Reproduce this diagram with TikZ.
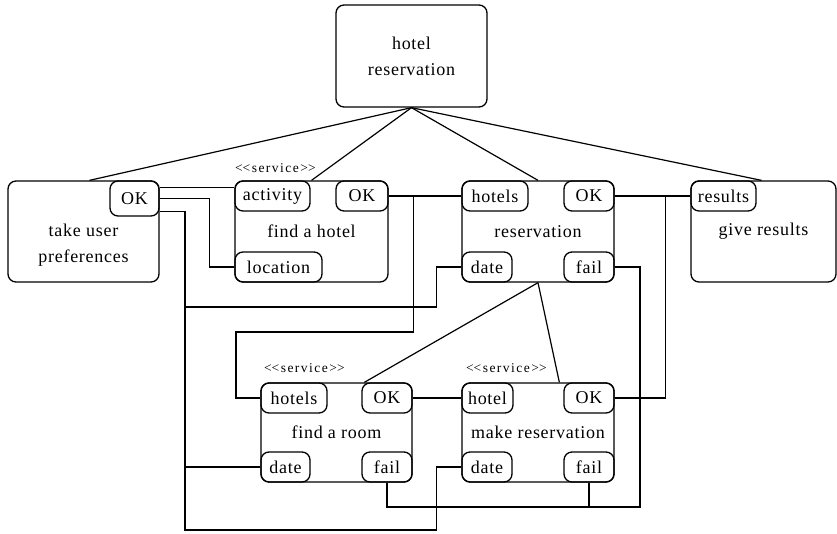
\documentclass[tikz,border=0pt]{standalone}
\usepackage{fontspec}
\setmainfont{Liberation Serif}[LetterSpace=4]
\usetikzlibrary{calc}

\tikzset{
  box/.style={draw, line width=1.3pt, rounded corners=8pt, minimum width=151pt,
    minimum height=101pt, inner sep=0pt, align=center},
  port/.style={draw, line width=1.3pt, rounded corners=8pt, minimum height=30pt,
    inner sep=0pt},
  wire/.style={line width=1.2pt},
  stereo/.style={font=\fontsize{13.5}{15}\selectfont\addfontfeature{LetterSpace=11}},
}
\newcommand{\stereotype}[1]{<\kern0pt<#1>\kern0pt>}

\begin{document}
\begin{tikzpicture}[x=1pt, y=-1pt, font=\fontsize{18}{26}\selectfont]
  \useasboundingbox (0,0) rectangle (837,533);

  % upper row
  \node[box, minimum height=102pt] (top) at (411.5,56) {hotel\\reservation};
  \node[box] (tup) at (83.5,231.5) {};
  \node[align=center, inner sep=0pt] (tupText) at ($(tup.center)+(0,14)$) {take user\\preferences};
  \node[port, minimum width=49pt, minimum height=35pt, anchor=north east] (tupOK) at (tup.north east) {OK};

  \node[box, minimum width=153pt] (fh) at (311.5,231.5) {find a hotel};
  \node[stereo] (fhStereo) at ($(fh.north west)+(41,-12)$) {\stereotype{service}};
  \node[port, minimum width=75pt, anchor=north west] (fhAct) at (fh.north west) {activity};
  \node[port, minimum width=52pt, anchor=north east] (fhOK) at (fh.north east) {OK};
  \node[port, minimum width=87pt, anchor=south west] (fhLoc) at (fh.south west) {location};

  \node[box, minimum width=152pt] (res) at (538,231.5) {reservation};
  \node[port, minimum width=66pt, anchor=north west] (resHotels) at (res.north west) {hotels};
  \node[port, minimum width=50pt, anchor=north east] (resOK) at (res.north east) {OK};
  \node[port, minimum width=50pt, anchor=south west] (resDate) at (res.south west) {date};
  \node[port, minimum width=50pt, anchor=south east] (resFail) at (res.south east) {fail};

  \node[box, minimum width=145pt] (gr) at (763.5,231.5) {give results};
  \node[port, minimum width=65pt, anchor=north west] (grResults) at (gr.north west) {results};

  % lower row
  \node[box, minimum height=99pt] (fr) at (336.5,432.5) {find a room};
  \node[stereo] (frStereo) at ($(fr.north west)+(44,-14)$) {\stereotype{service}};
  \node[port, minimum width=66pt, anchor=north west] (frHotels) at (fr.north west) {hotels};
  \node[port, minimum width=50pt, anchor=north east] (frOK) at (fr.north east) {OK};
  \node[port, minimum width=49pt, anchor=south west] (frDate) at (fr.south west) {date};
  \node[port, minimum width=50pt, anchor=south east] (frFail) at (fr.south east) {fail};

  \node[box, minimum width=152pt, minimum height=99pt] (mr) at (538,432.5) {make reservation};
  \node[stereo] (mrStereo) at ($(mr.north west)+(45,-14)$) {\stereotype{service}};
  \node[port, minimum width=51pt, anchor=north west] (mrHotel) at (mr.north west) {hotel};
  \node[port, minimum width=50pt, anchor=north east] (mrOK) at (mr.north east) {OK};
  \node[port, minimum width=50pt, anchor=south west] (mrDate) at (mr.south west) {date};
  \node[port, minimum width=50pt, anchor=south east] (mrFail) at (mr.south east) {fail};

  % decomposition lines
  \draw[wire] (top.south) -- ($(tup.north)+(6,0)$);
  \draw[wire] (top.south) -- (fh.north);
  \draw[wire] (top.south) -- (res.north);
  \draw[wire] (top.south) -- ($(gr.north)+(-2,0)$);
  \draw[wire] (res.south) -- ($(frOK.north west)+(3,0)$);
  \draw[wire] (res.south) -- ($(mrOK.north west)+(-4,0)$);

  % data flow
  \coordinate (busL) at ($(tupOK.south east)+(26,-5)$);% x of the left bus
  \coordinate (busB) at (185,530);
  \coordinate (busF) at (640,507);
  \draw[wire] ($(tupOK.north east)+(0,7)$) coordinate (a) -- (a -| fhAct.west);
  \draw[wire] (tupOK.east) -| ($(fhLoc.west)+(-25,0)$) -- (fhLoc.west);
  \draw[wire] ($(tupOK.south east)+(0,-5)$) -| (busB) -| ($(mrDate.west)+(-25,0)$) -- (mrDate.west);
  \draw[wire] (busL |- 0,307) -| ($(resDate.west)+(-25,0)$) -- (resDate.west);
  \draw[wire] (frDate.west) -- (frDate.west -| busL);

  \draw[wire] (fhOK.east) -- (resHotels.west);
  \draw[wire] ($(fhOK.east)+(25,0)$) |- (236,332) |- (frHotels.west);
  \draw[wire] (resOK.east) -- (grResults.west);
  \draw[wire] ($(resOK.east)+(51,0)$) |- (mrOK.east);
  \draw[wire] (resFail.east) -| (busF) -| (frFail.south);
  \draw[wire] (mrFail.south) -- (mrFail.south |- busF);
  \draw[wire] (frOK.east) -- (mrHotel.west);
\end{tikzpicture}
\end{document}
